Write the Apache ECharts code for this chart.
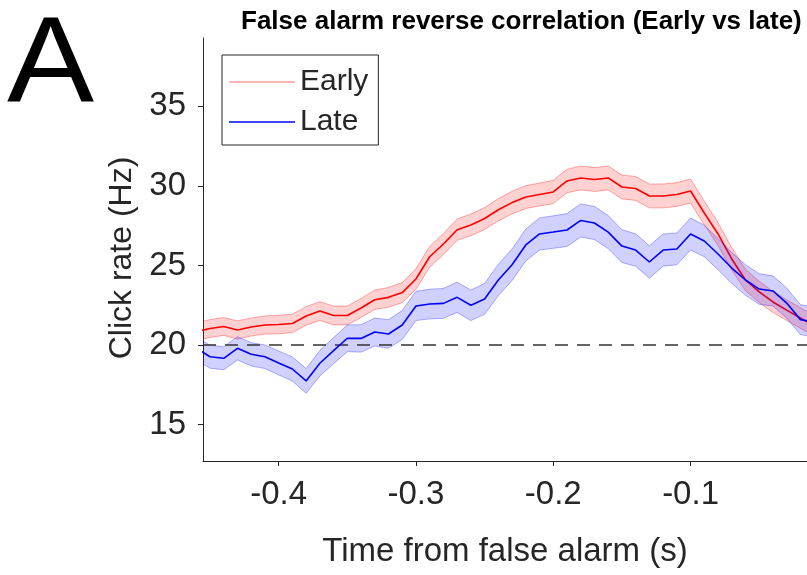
<!DOCTYPE html>
<html>
<head>
<meta charset="utf-8">
<title>False alarm reverse correlation</title>
<script src="https://cdn.jsdelivr.net/npm/echarts@6/dist/echarts.min.js"></script>
<style>
  html, body { margin: 0; padding: 0; background: #fff; }
  #chart { width: 807px; height: 575px; }
</style>
</head>
<body>
<div id="chart"></div>
<script>
// Time relative to the false alarm (s), one bin every 10 ms
const timeSec = [
  -0.46, -0.45, -0.44, -0.43, -0.42, -0.41, -0.40, -0.39, -0.38, -0.37,
  -0.36, -0.35, -0.34, -0.33, -0.32, -0.31, -0.30, -0.29, -0.28, -0.27,
  -0.26, -0.25, -0.24, -0.23, -0.22, -0.21, -0.20, -0.19, -0.18, -0.17,
  -0.16, -0.15, -0.14, -0.13, -0.12, -0.11, -0.10, -0.09, -0.08, -0.07,
  -0.06, -0.05, -0.04, -0.03, -0.02, -0.01, 0.00
];

// Mean click rate (Hz), early sessions
const earlyRate = [
  20.85, 21.04, 21.17, 20.95, 21.14, 21.26, 21.29, 21.36, 21.83, 22.14,
  21.86, 21.86, 22.33, 22.85, 23.00, 23.30, 24.15, 25.55, 26.35, 27.25,
  27.55, 27.95, 28.50, 28.95, 29.30, 29.46, 29.62, 30.31, 30.50, 30.40,
  30.50, 29.93, 29.84, 29.37, 29.37, 29.46, 29.68, 28.30, 26.98, 25.41,
  24.09, 23.34, 22.71, 22.20, 21.70, 21.20, 21.00
];
// Standard error of the early mean (Hz)
const earlySem = [
  0.56, 0.56, 0.56, 0.57, 0.57, 0.57, 0.58, 0.58, 0.58, 0.59,
  0.59, 0.59, 0.60, 0.61, 0.62, 0.63, 0.64, 0.65, 0.66, 0.67,
  0.68, 0.69, 0.70, 0.71, 0.72, 0.72, 0.73, 0.74, 0.75, 0.75,
  0.75, 0.75, 0.75, 0.75, 0.75, 0.75, 0.75, 0.74, 0.72, 0.70,
  0.68, 0.67, 0.66, 0.65, 0.65, 0.64, 0.64
];

// Mean click rate (Hz), late sessions
const lateRate = [
  19.80, 19.27, 19.17, 19.80, 19.42, 19.27, 18.88, 18.50, 17.75, 18.86,
  19.65, 20.43, 20.42, 20.82, 20.70, 21.26, 22.46, 22.58, 22.62, 23.00,
  22.50, 22.90, 24.09, 25.05, 26.29, 26.98, 27.10, 27.23, 27.83, 27.67,
  27.10, 26.22, 25.97, 25.22, 25.97, 26.04, 26.98, 26.54, 25.72, 24.84,
  24.09, 23.52, 23.40, 22.64, 21.60, 21.45, 21.50
];
// Standard error of the late mean (Hz)
const lateSem = [
  0.72, 0.72, 0.72, 0.73, 0.73, 0.74, 0.75, 0.76, 0.78, 0.80,
  0.82, 0.84, 0.86, 0.88, 0.90, 0.91, 0.92, 0.93, 0.94, 0.95,
  0.96, 0.97, 0.98, 0.99, 1.00, 1.01, 1.02, 1.03, 1.04, 1.04,
  1.04, 1.03, 1.02, 1.02, 1.01, 1.00, 1.00, 0.99, 0.98, 0.97,
  0.96, 0.96, 0.95, 0.95, 0.94, 0.94, 0.94
];

// Chance click rate (Hz)
const baselineRate = 20;

// Axis ticks
const xTicks = [-0.4, -0.3, -0.2, -0.1];
const yTicks = [15, 20, 25, 30, 35];

const TEXT = '#262626';
const FONT = '"Liberation Sans", Arial, Helvetica, sans-serif';

const pairs = (ys) => timeSec.map((t, i) => [t, ys[i]]);

// Shaded mean ± SEM band, drawn as one polygon with thin edge lines
function bandSeries(name, mean, sem, edge, fill, z) {
  const lo = mean.map((v, i) => v - sem[i]);
  const hi = mean.map((v, i) => v + sem[i]);
  return {
    name: name,
    type: 'custom',
    silent: true,
    clip: true,
    z: z,
    data: timeSec.map((t, i) => [t, lo[i], hi[i]]),
    encode: { x: 0, y: [1, 2] },
    renderItem: function (params, api) {
      if (params.dataIndex !== 0) return null;
      const up = timeSec.map((t, i) => api.coord([t, hi[i]]));
      const dn = timeSec.map((t, i) => api.coord([t, lo[i]]));
      return {
        type: 'group',
        children: [
          { type: 'polygon', shape: { points: up.concat(dn.slice().reverse()) }, style: { fill: fill, stroke: null } },
          { type: 'polyline', shape: { points: up }, style: { stroke: edge, lineWidth: 1, fill: null } },
          { type: 'polyline', shape: { points: dn }, style: { stroke: edge, lineWidth: 1, fill: null } }
        ]
      };
    }
  };
}

const chart = echarts.init(document.getElementById('chart'), null, { renderer: 'canvas' });

chart.setOption({
  animation: false,
  backgroundColor: '#ffffff',
  textStyle: { fontFamily: FONT },
  title: {
    text: 'False alarm reverse correlation (Early vs late)',
    left: 236,
    top: 4,
    textStyle: { fontFamily: FONT, fontSize: 26, fontWeight: 'bold', color: '#000' }
  },
  graphic: [
    {
      // panel letter
      type: 'text',
      x: 7,
      y: 7,
      scaleX: 1.07,
      style: { text: 'A', font: '122px ' + FONT, fill: '#000', textVerticalAlign: 'top' }
    },
    {
      // y-axis title
      type: 'text',
      x: 122,
      y: 258,
      rotation: Math.PI / 2,
      style: {
        text: 'Click rate (Hz)',
        font: '32px ' + FONT,
        fill: TEXT,
        textAlign: 'center',
        textVerticalAlign: 'middle'
      }
    }
  ],
  legend: {
    orient: 'vertical',
    left: 222,
    top: 55,
    itemWidth: 66,
    itemHeight: 1.5,
    itemGap: 10,
    padding: [12, 10, 8, 7],
    borderColor: TEXT,
    borderWidth: 1,
    backgroundColor: '#ffffff',
    textStyle: { fontFamily: FONT, fontSize: 30, color: TEXT },
    data: [
      { name: 'Early', icon: 'rect', itemStyle: { color: '#ff9c9c' } },
      { name: 'Late', icon: 'rect', itemStyle: { color: '#0000ff' } }
    ]
  },
  grid: { left: 203, top: 38, right: 0, bottom: 114, containLabel: false },
  xAxis: {
    type: 'value',
    min: -0.4551,
    max: -0.0152,
    name: 'Time from false alarm (s)',
    nameLocation: 'middle',
    nameGap: 74,
    nameTextStyle: { fontFamily: FONT, fontSize: 33, color: TEXT },
    axisLine: { show: true, onZero: false, lineStyle: { color: TEXT, width: 1 } },
    axisTick: { show: true, inside: false, length: 5, customValues: xTicks, lineStyle: { color: TEXT } },
    axisLabel: {
      customValues: xTicks,
      formatter: (v) => v.toFixed(1),
      fontFamily: FONT, fontSize: 33, color: TEXT, margin: 17
    },
    splitLine: { show: false }
  },
  yAxis: {
    type: 'value',
    min: 12.72,
    max: 39.29,
    axisLine: { show: true, onZero: false, lineStyle: { color: TEXT, width: 1 } },
    axisTick: { show: true, inside: false, length: 5, customValues: yTicks, lineStyle: { color: TEXT } },
    axisLabel: { customValues: yTicks, fontFamily: FONT, fontSize: 33, color: TEXT, margin: 17 },
    splitLine: { show: false }
  },
  series: [
    bandSeries('Early SEM', earlyRate, earlySem, 'rgba(255,0,0,0.32)', 'rgba(255,0,0,0.18)', 2),
    {
      name: 'Early',
      type: 'line',
      data: pairs(earlyRate),
      symbol: 'none',
      lineStyle: { color: '#ff0000', width: 1.6 },
      itemStyle: { color: '#ff0000' },
      z: 3,
      markLine: {
        silent: true,
        symbol: 'none',
        label: { show: false },
        lineStyle: { color: '#333333', width: 1.7, type: [13, 9] },
        data: [{ yAxis: baselineRate }]
      }
    },
    bandSeries('Late SEM', lateRate, lateSem, 'rgba(0,0,255,0.3)', 'rgba(0,0,255,0.18)', 4),
    {
      name: 'Late',
      type: 'line',
      data: pairs(lateRate),
      symbol: 'none',
      lineStyle: { color: '#0000ff', width: 1.6 },
      itemStyle: { color: '#0000ff' },
      z: 5
    }
  ]
});
</script>
</body>
</html>
